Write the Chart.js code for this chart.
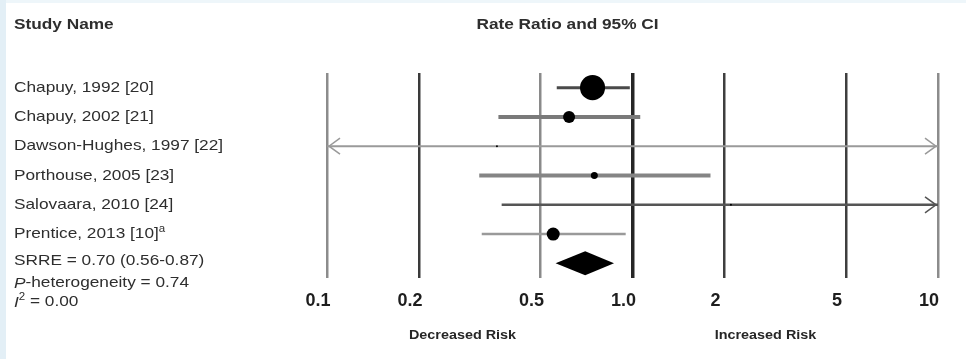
<!DOCTYPE html>
<html>
<head>
<meta charset="utf-8">
<title>Rate ratio forest plot</title>
<script src="https://cdn.jsdelivr.net/npm/chart.js"></script>
<style>
  html, body { margin: 0; padding: 0; background: #fff; }
  #wrap { width: 966px; height: 359px; }
</style>
</head>
<body>
<div id="wrap"><canvas id="forest"></canvas></div>
<script>
// study rows, top to bottom
const studies = ['Chapuy, 1992 [20]', 'Chapuy, 2002 [21]', 'Dawson-Hughes, 1997 [22]',
                 'Porthouse, 2005 [23]', 'Salovaara, 2010 [24]', 'Prentice, 2013 [10]'];
const rateRatio = [0.74, 0.62, 0.36, 0.75, 2.1, 0.55];
const ciLow = [0.565, 0.364, 0.02, 0.315, 0.373, 0.321];
const ciHigh = [0.98, 1.06, 15, 1.80, 15, 0.95];
const weights = [62.9, 14.5, 0.4, 4.9, 0.4, 16.9];   // % weight, sets marker area
const pooled = [0.70, 0.56, 0.87];                   // SRRE, lower, upper
const xTicks = [0.1, 0.2, 0.5, 1.0, 2, 5, 10];
const xTickLabels = ['0.1', '0.2', '0.5', '1.0', '2', '5', '10'];

const FONT = "'Liberation Sans', Arial, sans-serif";
const SX = 1.15; // text is a little wide in this figure

const ciColors = ['#4a4a4a', '#7a7a7a', '#9a9a9a', '#858585', '#555555', '#9a9a9a'];
const ciWidths = [3, 4, 2, 4, 2.5, 2.5];
const gridColors = ['#8c8c8c', '#3a3a3a', '#8a8a8a', '#262626', '#3f3f3f', '#3f3f3f', '#8c8c8c'];
const gridWidths = [2.5, 2.5, 2.5, 3.5, 2.5, 2.5, 2.5];

// draw runs of text left to right, each with its own font and baseline shift
function drawRuns(ctx, runs, x, y) {
  ctx.save();
  ctx.translate(x, y);
  ctx.scale(SX, 1);
  ctx.textBaseline = 'middle';
  ctx.textAlign = 'left';
  let cx = 0;
  runs.forEach(r => {
    ctx.font = r.font;
    ctx.fillText(r.t, cx, r.dy || 0);
    cx += ctx.measureText(r.t).width;
  });
  ctx.restore();
}

function drawCentered(ctx, text, font, x, y) {
  ctx.save();
  ctx.font = font;
  ctx.translate(x, y);
  ctx.scale(SX, 1);
  ctx.textBaseline = 'middle';
  ctx.textAlign = 'center';
  ctx.fillText(text, 0, 0);
  ctx.restore();
}

const background = {
  id: 'background',
  beforeDraw(chart) {
    const ctx = chart.ctx;
    ctx.save();
    ctx.fillStyle = '#ffffff';
    ctx.fillRect(0, 0, chart.width, chart.height);
    ctx.fillStyle = '#eef6fa';
    ctx.fillRect(0, 0, chart.width, 3);
    ctx.fillStyle = '#e3eff6';
    ctx.fillRect(0, 0, 6, chart.height);
    ctx.restore();
  }
};

// pooled estimate diamond and arrowheads for intervals running off the axis
const forestMarks = {
  id: 'forestMarks',
  afterDatasetsDraw(chart) {
    const ctx = chart.ctx, xs = chart.scales.x, ys = chart.scales.y;
    const area = chart.chartArea;
    ctx.save();
    const yp = ys.getPixelForValue(studies.length + 1);
    const xc = xs.getPixelForValue(pooled[0]);
    ctx.fillStyle = '#000';
    ctx.beginPath();
    ctx.moveTo(xs.getPixelForValue(pooled[1]), yp);
    ctx.lineTo(xc, yp - 12);
    ctx.lineTo(xs.getPixelForValue(pooled[2]), yp);
    ctx.lineTo(xc, yp + 12);
    ctx.closePath();
    ctx.fill();

    studies.forEach((s, i) => {
      const y = ys.getPixelForValue(i + 1);
      ctx.strokeStyle = ciColors[i];
      ctx.lineWidth = 1.5;
      if (ciLow[i] < xs.min) {
        ctx.beginPath();
        ctx.moveTo(area.left + 13, y - 8);
        ctx.lineTo(area.left + 2, y);
        ctx.lineTo(area.left + 13, y + 8);
        ctx.stroke();
      }
      if (ciHigh[i] > xs.max) {
        ctx.beginPath();
        ctx.moveTo(area.right - 13, y - 8);
        ctx.lineTo(area.right - 2, y);
        ctx.lineTo(area.right - 13, y + 8);
        ctx.stroke();
      }
    });
    ctx.restore();
  }
};

const annotations = {
  id: 'annotations',
  afterDraw(chart) {
    const ctx = chart.ctx, xs = chart.scales.x, ys = chart.scales.y;
    const x1 = xs.getPixelForValue(1);
    const reg = '15px ' + FONT, ital = 'italic 15px ' + FONT, sup = '10px ' + FONT;
    ctx.save();
    ctx.fillStyle = '#2e2e2e';
    drawRuns(ctx, [{ t: 'Study Name', font: 'bold 15px ' + FONT }], 14, 25);
    drawCentered(ctx, 'Rate Ratio and 95% CI', 'bold 15px ' + FONT, x1 - 65, 25);

    studies.forEach((s, i) => {
      const y = ys.getPixelForValue(i + 1);
      if (s.startsWith('Prentice')) {
        drawRuns(ctx, [{ t: s, font: reg }, { t: 'a', font: sup, dy: -5 }], 14, y);
      } else {
        drawRuns(ctx, [{ t: s, font: reg }], 14, y);
      }
    });
    const yp = ys.getPixelForValue(studies.length + 1);
    drawRuns(ctx, [{ t: 'SRRE = ' + pooled[0].toFixed(2) + ' (' + pooled[1].toFixed(2) + '-' + pooled[2].toFixed(2) + ')', font: reg }], 14, yp - 2);
    drawRuns(ctx, [{ t: 'P', font: ital }, { t: '-heterogeneity = 0.74', font: reg }], 14, yp + 20);
    drawRuns(ctx, [{ t: 'I', font: ital }, { t: '2', font: sup, dy: -5 }, { t: ' = 0.00', font: reg }], 14, yp + 39);

    ctx.fillStyle = '#262626';
    drawCentered(ctx, 'Decreased Risk', 'bold 12.5px ' + FONT, x1 - 170, 336);
    drawCentered(ctx, 'Increased Risk', 'bold 12.5px ' + FONT, x1 + 133, 336);
    ctx.restore();
  }
};

const lineSets = studies.map((s, i) => ({
  type: 'line',
  label: s,
  data: [{ x: ciLow[i], y: i + 1 }, { x: ciHigh[i], y: i + 1 }],
  borderColor: ciColors[i],
  borderWidth: ciWidths[i],
  pointRadius: 0,
  order: 2
}));

const pointSet = {
  type: 'scatter',
  label: 'Rate ratio',
  data: rateRatio.map((v, i) => ({ x: v, y: i + 1 })),
  pointRadius: weights.map(w => 1.58 * Math.sqrt(w)),
  pointBackgroundColor: '#000',
  pointBorderWidth: 0,
  order: 1
};

new Chart(document.getElementById('forest'), {
  type: 'scatter',
  data: { datasets: [...lineSets, pointSet] },
  options: {
    responsive: true,
    maintainAspectRatio: false,
    animation: false,
    events: [],
    layout: { padding: { left: 327, right: 28, top: 73, bottom: 0 } },
    plugins: { legend: { display: false }, tooltip: { enabled: false } },
    scales: {
      x: {
        type: 'logarithmic',
        min: 0.1,
        max: 10,
        afterBuildTicks: scale => { scale.ticks = xTicks.map(v => ({ value: v })); },
        afterFit: scale => { scale.height = 81; },
        border: { display: false },
        grid: {
          drawTicks: false,
          color: c => gridColors[c.index],
          lineWidth: c => gridWidths[c.index]
        },
        ticks: {
          autoSkip: false,
          maxRotation: 0,
          padding: 12,
          labelOffset: -9,
          color: '#1e1e1e',
          font: { family: FONT, size: 18, weight: 'bold' },
          callback: (v, i) => xTickLabels[i]
        }
      },
      y: {
        type: 'linear',
        display: false,
        reverse: true,
        min: 0.5,
        max: studies.length + 1.5
      }
    }
  },
  plugins: [background, forestMarks, annotations]
});
</script>
</body>
</html>
